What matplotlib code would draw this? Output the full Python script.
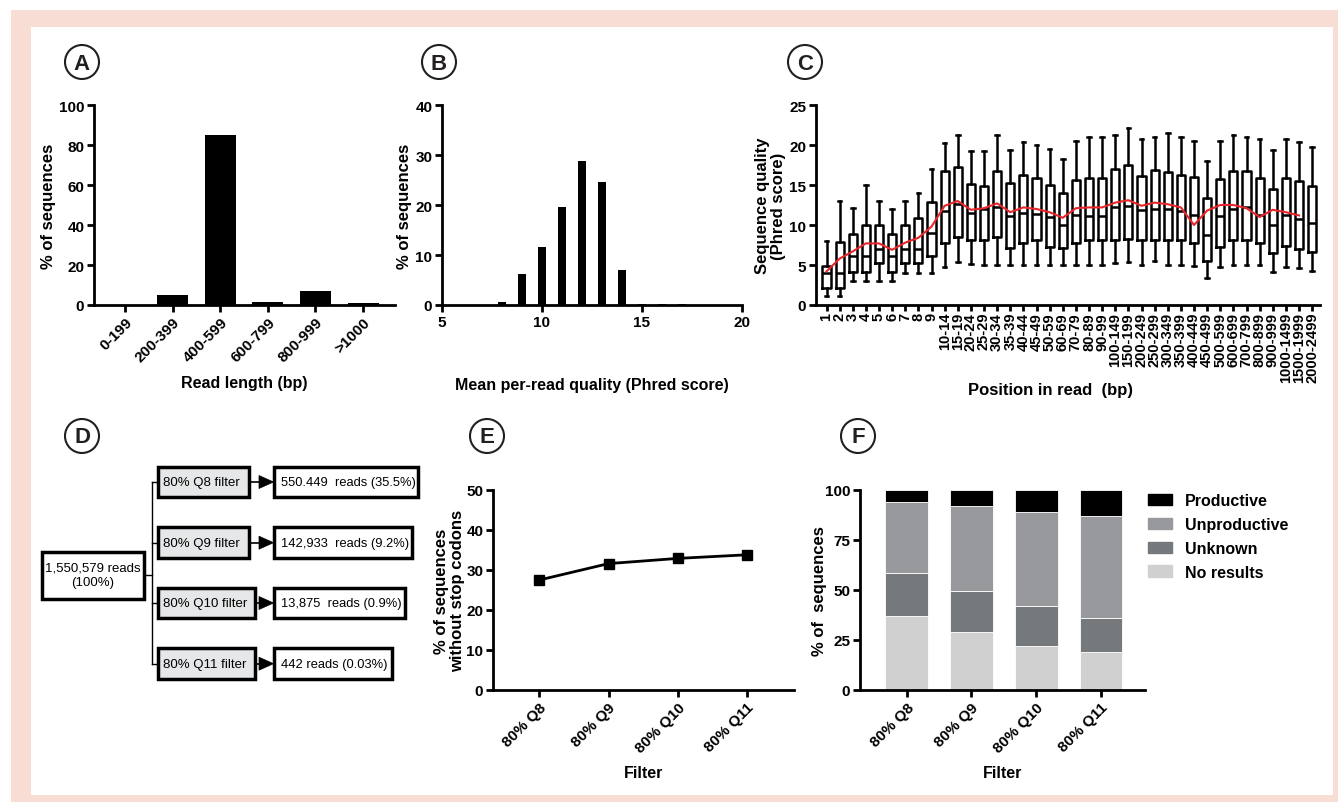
import numpy as np
import matplotlib
matplotlib.use("Agg")
import matplotlib.pyplot as plt
from matplotlib.patches import Rectangle, Circle, Polygon, Patch

plt.rcParams['font.family'] = ['Liberation Sans', 'DejaVu Sans']
plt.rcParams['font.weight'] = 'bold'
plt.rcParams['axes.labelweight'] = 'bold'

# ---- data ----
# A: read length distribution
len_bins = ['0-199', '200-399', '400-599', '600-799', '800-999', '>1000']
len_pct = [0.2, 4.8, 84.8, 1.3, 6.9, 1.0]

# B: mean per-read quality
qual_score = [8, 9, 10, 11, 12, 13, 14, 15, 16, 17]
qual_pct = [0.7, 6.2, 11.6, 19.7, 28.9, 24.7, 7.1, 0.3, 0.25, 0.25]

# C: per-position quality boxes
pos_labels = ['1', '2', '3', '4', '5', '6', '7', '8', '9',
              '10-14', '15-19', '20-24', '25-29', '30-34', '35-39', '40-44', '45-49',
              '50-59', '60-69', '70-79', '80-89', '90-99',
              '100-149', '150-199', '200-249', '250-299', '300-349', '350-399',
              '400-449', '450-499',
              '500-599', '600-699', '700-799', '800-899', '900-999',
              '1000-1499', '1500-1999', '2000-2499']
pos_low = [1.1, 1.1, 3.0, 3.0, 3.0, 3.0, 4.0, 4.0, 4.0,
           4.8, 5.4, 5.1, 5.0, 5.0, 5.0, 5.0, 5.0,
           5.0, 5.0, 5.0, 5.0, 5.0,
           5.3, 5.4, 5.0, 5.5, 5.0, 5.0, 4.9, 3.4,
           4.8, 5.0, 5.0, 5.0, 4.1, 4.8, 4.6, 4.3]
pos_q1 = [2.1, 2.1, 4.1, 4.1, 5.2, 4.1, 5.2, 5.2, 6.1,
          7.7, 8.5, 8.1, 8.1, 8.5, 7.1, 7.8, 8.1,
          7.2, 7.1, 7.8, 8.1, 8.1,
          8.1, 8.3, 8.1, 8.1, 8.1, 8.1, 7.7, 5.5,
          7.3, 8.1, 8.1, 7.7, 6.5, 7.4, 7.0, 6.6]
pos_med = [4.0, 4.0, 6.1, 6.1, 7.0, 6.1, 7.0, 7.0, 9.0,
           11.8, 12.6, 11.5, 12.0, 12.3, 11.1, 11.5, 11.4,
           11.0, 10.0, 11.3, 11.1, 11.1,
           12.2, 12.4, 11.9, 12.0, 12.0, 11.7, 11.3, 8.8,
           11.1, 12.0, 12.2, 11.2, 10.0, 11.3, 10.8, 10.2]
pos_q3 = [4.9, 7.9, 8.9, 10.0, 10.0, 8.9, 10.0, 10.9, 12.9,
          16.7, 17.3, 15.1, 14.9, 16.7, 15.3, 16.3, 15.9,
          15.0, 14.0, 15.6, 15.9, 15.9,
          17.0, 17.5, 16.1, 16.9, 16.6, 16.3, 16.0, 13.4,
          15.8, 16.8, 16.8, 15.9, 14.5, 15.9, 15.5, 14.9]
pos_high = [8.0, 13.0, 12.1, 15.0, 13.0, 12.0, 13.0, 14.0, 17.0,
            20.2, 21.2, 19.2, 19.2, 21.2, 19.4, 20.4, 20.0,
            19.5, 18.3, 20.5, 21.0, 21.0,
            21.3, 22.1, 20.7, 21.0, 21.5, 21.0, 20.5, 18.0,
            20.5, 21.2, 21.0, 20.8, 19.4, 20.7, 20.4, 19.8]
pos_mean = [4.2, 5.8, 6.7, 7.7, 7.7, 6.9, 7.8, 8.4, 9.8,
            12.4, 13.0, 11.9, 12.1, 12.7, 11.6, 12.2, 12.0,
            11.6, 10.9, 12.1, 12.2, 12.2,
            12.8, 13.1, 12.4, 12.8, 12.6, 12.2, 10.0, 11.8,
            12.5, 12.5, 12.1, 11.0, 11.9, 11.6, 11.2]

# D: filtering flowchart
total_text = '1,550,579 reads\n(100%)'
filter_names = ['80% Q8 filter', '80% Q9 filter', '80% Q10 filter', '80% Q11 filter']
filter_results = ['550.449  reads (35.5%)', '142,933  reads (9.2%)',
                  '13,875  reads (0.9%)', '442 reads (0.03%)']

# E / F: per-filter results
filters = ['80% Q8', '80% Q9', '80% Q10', '80% Q11']
no_stop_pct = [27.5, 31.6, 32.9, 33.8]
no_results = [37.2, 28.8, 22.2, 19.0]
unknown = [21.1, 20.5, 19.6, 17.2]
unproductive = [35.7, 42.7, 47.0, 50.8]
productive = [6.0, 8.0, 11.2, 13.0]

# ---- figure ----
W, H = 1338, 803
fig = plt.figure(figsize=(W / 100, H / 100), dpi=100)

bg = fig.add_axes([0, 0, 1, 1])
bg.set_xlim(0, W)
bg.set_ylim(H, 0)
bg.axis('off')
bg.add_patch(Rectangle((11, 11), W - 11, H - 11, color='#f8ddd4', lw=0))
bg.add_patch(Rectangle((31, 28), 1333 - 31, 796 - 28, color='white', lw=0))

for letter, (cx, cy) in zip('ABCDEF', [(82, 63), (439, 63), (805, 63),
                                        (82, 437), (487, 437), (858, 437)]):
    bg.add_patch(Circle((cx, cy), 17, fill=False, lw=1.5, color='#231f20'))
    bg.text(cx, cy + 1, letter, ha='center', va='center', fontsize=16,
            fontweight='bold', color='#231f20')


def px_axes(x0, y0, x1, y1):
    return fig.add_axes([x0 / W, 1 - y1 / H, (x1 - x0) / W, (y1 - y0) / H])


def style(ax):
    for s in ['top', 'right']:
        ax.spines[s].set_visible(False)
    for s in ['left', 'bottom']:
        ax.spines[s].set_linewidth(2)
    ax.tick_params(width=2, length=5, labelsize=11, pad=2)


# A
axA = px_axes(94, 106, 395, 306)
style(axA)
axA.bar(np.arange(len(len_bins)), len_pct, width=0.65, color='black')
axA.set_xlim(-0.65, 5.67)
axA.set_ylim(0, 100)
axA.set_yticks([0, 20, 40, 60, 80, 100])
axA.set_xticks(np.arange(len(len_bins)))
axA.set_xticklabels(len_bins, rotation=45, ha='right', rotation_mode='anchor')
axA.set_ylabel('% of sequences', fontsize=12)
axA.yaxis.set_label_coords(-0.125, 0.5)
axA.set_xlabel('Read length (bp)', fontsize=11.5)
axA.xaxis.set_label_coords(0.5, -0.35)

# B
axB = px_axes(442, 106, 742, 306)
style(axB)
axB.bar(qual_score, qual_pct, width=0.37, color='black')
axB.set_xlim(5, 20)
axB.set_ylim(0, 40)
axB.set_xticks([5, 10, 15, 20])
axB.set_yticks([0, 10, 20, 30, 40])
axB.set_ylabel('% of sequences', fontsize=12)
axB.yaxis.set_label_coords(-0.1, 0.5)
axB.set_xlabel('Mean per-read quality (Phred score)', fontsize=11.5)
axB.xaxis.set_label_coords(0.5, -0.36)

# C
axC = px_axes(816, 106, 1320, 306)
style(axC)
stats = [dict(whislo=lo, q1=a, med=m, q3=b, whishi=hi, fliers=[])
         for lo, a, m, b, hi in zip(pos_low, pos_q1, pos_med, pos_q3, pos_high)]
pos = np.arange(len(pos_labels))
lw_box = 1.8
axC.bxp(stats, positions=pos, widths=0.62, capwidths=0.28, showfliers=False,
        boxprops=dict(color='black', lw=lw_box),
        whiskerprops=dict(color='black', lw=lw_box),
        capprops=dict(color='black', lw=lw_box),
        medianprops=dict(color='black', lw=lw_box))
axC.plot(pos[:len(pos_mean)], pos_mean, color='#e8262b', lw=1.5, zorder=5)
axC.set_xlim(-0.8, 37.6)
axC.set_ylim(0, 25)
axC.set_yticks([0, 5, 10, 15, 20, 25])
axC.set_xticks(pos)
axC.set_xticklabels(pos_labels, rotation=90, fontsize=10.5)
axC.tick_params(axis='x', length=4, pad=1)
axC.set_ylabel('Sequence quality\n(Phred score)', fontsize=12, linespacing=1.1)
axC.yaxis.set_label_coords(-0.06, 0.5)
bg.text(1050, 391, 'Position in read  (bp)', ha='center', va='center', fontsize=12)

# D flowchart
row_y = [483, 543.7, 604, 664.7]
filt_right = [248.7, 248.7, 255, 255]
res_right = [417.7, 411.7, 405, 392.3]
bh = 30.5
bg.add_patch(Rectangle((41.7, 552.7), 102.3, 47.3, fill=False, lw=2.5, ec='black'))
bg.text(93, 576, total_text, ha='center', va='center', fontsize=9.5,
        fontweight='normal', linespacing=1.25)
bg.plot([144, 151.7], [576, 576], color='black', lw=1)
bg.plot([151.7, 151.7], [row_y[0], row_y[-1]], color='black', lw=1)
for y, name, res, fr, rr in zip(row_y, filter_names, filter_results, filt_right, res_right):
    bg.plot([151.7, 157.7], [y, y], color='black', lw=1)
    bg.add_patch(Rectangle((157.7, y - bh / 2), fr - 157.7, bh, fc='#e6e7e8',
                           ec='black', lw=2.5))
    bg.text(163, y, name, ha='left', va='center', fontsize=9.5, fontweight='normal')
    bg.plot([fr, 259], [y, y], color='black', lw=1.2)
    bg.add_patch(Polygon([[259, y - 6.5], [259, y + 6.5], [273.5, y]], closed=True,
                         fc='black', ec='black', lw=0.5))
    bg.add_patch(Rectangle((274, y - bh / 2), rr - 274, bh, fc='white',
                           ec='black', lw=2.5))
    bg.text(281, y, res, ha='left', va='center', fontsize=9.3, fontweight='normal')

# E
axE = px_axes(493, 491, 794, 691)
style(axE)
xe = np.arange(len(filters))
axE.plot(xe, no_stop_pct, color='black', lw=2, marker='s', markersize=7)
axE.set_xlim(-0.67, 3.68)
axE.set_ylim(0, 50)
axE.set_yticks([0, 10, 20, 30, 40, 50])
axE.set_xticks(xe)
axE.set_xticklabels(filters, rotation=45, ha='right', rotation_mode='anchor')
axE.set_ylabel('% of sequences\nwithout stop codons', fontsize=12, linespacing=1.1)
axE.yaxis.set_label_coords(-0.093, 0.5)
axE.set_xlabel('Filter', fontsize=11.5)
axE.xaxis.set_label_coords(0.5, -0.375)

# F
axF = px_axes(860, 491, 1145, 691)
style(axF)
xf = np.arange(len(filters))
bottom = np.zeros(len(filters))
segments = [('No results', no_results, '#d0d0d0'),
            ('Unknown', unknown, '#76797b'),
            ('Unproductive', unproductive, '#98999c'),
            ('Productive', productive, 'black')]
for name, vals, col in segments:
    axF.bar(xf, vals, bottom=bottom, width=0.66, color=col, ec='white', lw=0.6)
    bottom += np.array(vals)
axF.set_xlim(-0.72, 3.68)
axF.set_ylim(0, 100)
axF.set_yticks([0, 25, 50, 75, 100])
axF.set_xticks(xf)
axF.set_xticklabels(filters, rotation=45, ha='right', rotation_mode='anchor')
axF.set_ylabel('% of  sequences', fontsize=12)
axF.yaxis.set_label_coords(-0.115, 0.5)
axF.set_xlabel('Filter', fontsize=11.5)
axF.xaxis.set_label_coords(0.5, -0.375)
handles = [Patch(color=col, label=name) for name, vals, col in segments[::-1]]
axF.legend(handles=handles, loc='upper left', bbox_to_anchor=(1.0, 1.0),
           frameon=False, fontsize=11.5, handlelength=1.5, handleheight=0.7,
           labelspacing=0.55, borderaxespad=0, borderpad=0.2, handletextpad=0.8)

fig.savefig('out.png', dpi=100)
